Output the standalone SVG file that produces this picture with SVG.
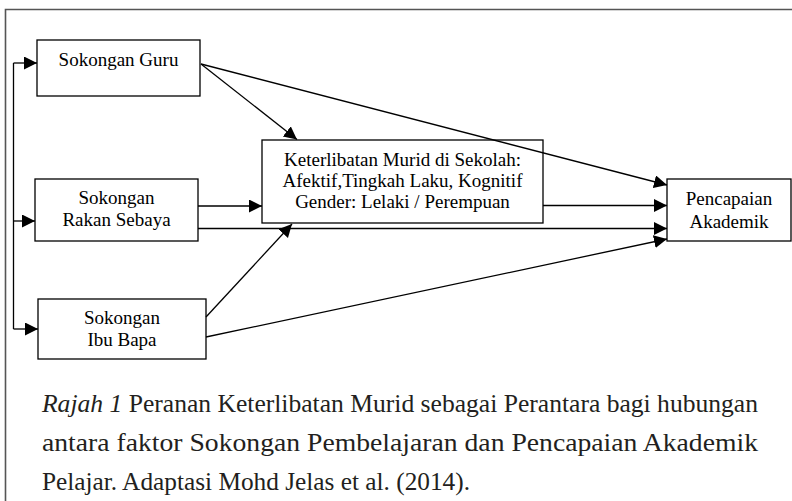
<svg xmlns="http://www.w3.org/2000/svg" width="792" height="501" viewBox="0 0 792 501">
<style>
.box{fill:#fff;stroke:#000;stroke-width:1.3}
.t{font-family:"Liberation Serif","Times New Roman",serif;font-size:19px;fill:#000;text-anchor:middle}
.c{stroke:#000;stroke-width:1.3;fill:none}
.cap{font-family:"Liberation Serif","Times New Roman",serif;font-size:25px;fill:#231f20}
.frame{stroke:#555;stroke-width:1.6;fill:none}
</style>
<defs>
<marker id="ah" markerUnits="userSpaceOnUse" markerWidth="14" markerHeight="14" refX="13" refY="6.5" orient="auto">
<path d="M0,0 L13,6.5 L0,13 Z" fill="#000"/>
</marker>
</defs>
<rect width="792" height="501" fill="#fff"/>
<path class="frame" d="M5.5,501 V9.5 H792"/>
<g id="guru">
<rect class="box" x="37" y="40" width="163" height="56"/>
<text class="t" x="118.5" y="66">Sokongan Guru</text>
</g>
<g id="rakan">
<rect class="box" x="35" y="179" width="163" height="62"/>
<text class="t" x="116.5" y="204">Sokongan</text>
<text class="t" x="116.5" y="226">Rakan Sebaya</text>
</g>
<g id="ibubapa">
<rect class="box" x="38" y="299" width="168" height="60"/>
<text class="t" x="122" y="324">Sokongan</text>
<text class="t" x="122" y="346">Ibu Bapa</text>
</g>
<g id="keterlibatan">
<rect class="box" x="262" y="140" width="281" height="83"/>
<text class="t" x="402.5" y="166">Keterlibatan Murid di Sekolah:</text>
<text class="t" x="402.5" y="187">Afektif,Tingkah Laku, Kognitif</text>
<text class="t" x="402.5" y="208">Gender: Lelaki / Perempuan</text>
</g>
<g id="pencapaian">
<rect class="box" x="667" y="179" width="124" height="62"/>
<text class="t" x="729" y="205">Pencapaian</text>
<text class="t" x="729" y="228">Akademik</text>
</g>
<g id="connectors">
<path class="c" d="M13.5,329 V63" />
<line class="c" x1="13.5" y1="63" x2="37" y2="63" marker-end="url(#ah)"/>
<line class="c" x1="13.5" y1="221" x2="35" y2="221" marker-end="url(#ah)"/>
<line class="c" x1="13.5" y1="329" x2="38" y2="329" marker-end="url(#ah)"/>
<line class="c" x1="201" y1="64" x2="297" y2="139.5" marker-end="url(#ah)"/>
<line class="c" x1="201" y1="64" x2="667" y2="185" marker-end="url(#ah)"/>
<line class="c" x1="198" y1="206" x2="262" y2="206" marker-end="url(#ah)"/>
<line class="c" x1="198" y1="228.5" x2="667" y2="228.5" marker-end="url(#ah)"/>
<line class="c" x1="543" y1="205.5" x2="667" y2="205.5" marker-end="url(#ah)"/>
<line class="c" x1="206" y1="317" x2="292" y2="224" marker-end="url(#ah)"/>
<line class="c" x1="206" y1="337" x2="667" y2="239" marker-end="url(#ah)"/>
</g>
<g id="caption">
<text class="cap" x="42" y="412" textLength="716" lengthAdjust="spacingAndGlyphs"><tspan font-style="italic">Rajah 1</tspan> Peranan  Keterlibatan Murid sebagai Perantara bagi hubungan</text>
<text class="cap" x="42" y="451" textLength="716" lengthAdjust="spacingAndGlyphs">antara faktor  Sokongan Pembelajaran dan  Pencapaian Akademik</text>
<text class="cap" x="42" y="490" textLength="428" lengthAdjust="spacingAndGlyphs">Pelajar.  Adaptasi Mohd Jelas et al. (2014).</text>
</g>
</svg>
